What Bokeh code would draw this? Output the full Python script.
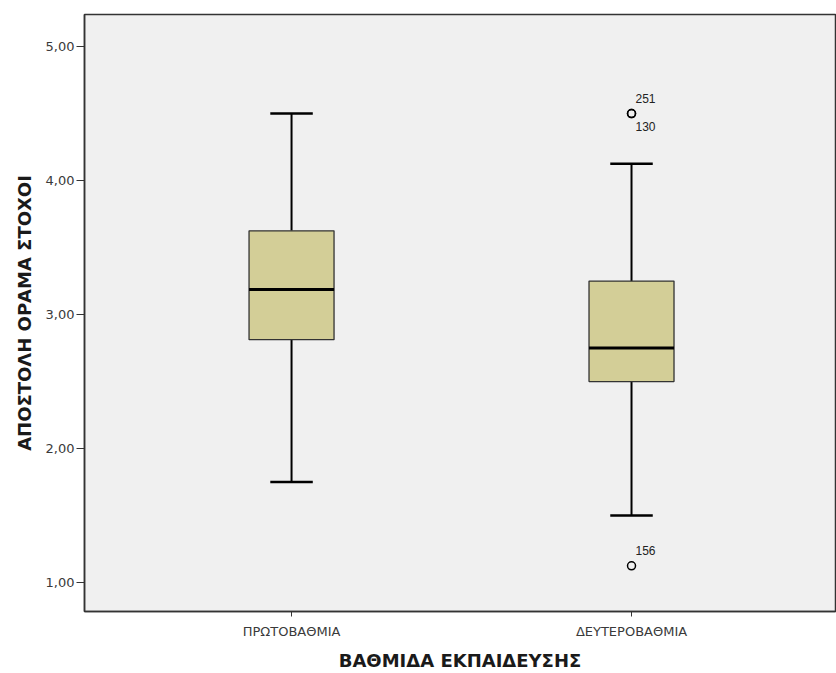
from bokeh.plotting import figure
from bokeh.models import Range1d, FixedTicker, ColumnDataSource
from bokeh.embed import file_html
from bokeh.resources import INLINE
from bokeh.core.properties import value

# ---- data ----
categories = ["ΠΡΩΤΟΒΑΘΜΙΑ", "ΔΕΥΤΕΡΟΒΑΘΜΙΑ"]
lower_whisker = [1.75, 1.5]
q1 = [2.8125, 2.5]
median = [3.1875, 2.75]
q3 = [3.625, 3.25]
upper_whisker = [4.5, 4.125]

outlier_group = [1, 1, 1]          # index into categories
outlier_value = [4.5, 4.5, 1.125]
outlier_id = ["251", "130", "156"]
outlier_label_side = ["above", "below", "above"]

ytick_values = [1, 2, 3, 4, 5]
ytick_labels = ["1,00", "2,00", "3,00", "4,00", "5,00"]

x_title = "ΒΑΘΜΙΔΑ ΕΚΠΑΙΔΕΥΣΗΣ"
y_title = "ΑΠΟΣΤΟΛΗ ΟΡΑΜΑ ΣΤΟΧΟΙ"

# ---- figure ----
xpos = [i + 1 for i in range(len(categories))]
TICK_FONT = "DejaVu Sans"
TITLE_FONT = "DejaVu Sans"

p = figure(width=836, height=673,
           x_range=Range1d(0.391, 2.6), y_range=Range1d(0.784, 5.239),
           output_backend="svg", toolbar_location=None,
           min_border_left=84, min_border_right=1,
           min_border_top=14, min_border_bottom=62)

p.background_fill_color = "#f0f0f0"
p.border_fill_color = "white"
p.outline_line_color = "#333333"
p.outline_line_width = 1.5
p.xgrid.visible = False
p.ygrid.visible = False

box_w = 0.25
cap_w = 0.125

src = ColumnDataSource(dict(x=xpos, lw=lower_whisker, q1=q1, med=median, q3=q3, uw=upper_whisker,
                            xl=[x - box_w / 2 for x in xpos], xr=[x + box_w / 2 for x in xpos],
                            cl=[x - cap_w / 2 for x in xpos], cr=[x + cap_w / 2 for x in xpos]))

# whiskers
p.segment(x0="x", y0="q3", x1="x", y1="uw", source=src, line_color="black", line_width=2)
p.segment(x0="x", y0="lw", x1="x", y1="q1", source=src, line_color="black", line_width=2)
# caps
p.segment(x0="cl", y0="uw", x1="cr", y1="uw", source=src, line_color="black", line_width=2.5)
p.segment(x0="cl", y0="lw", x1="cr", y1="lw", source=src, line_color="black", line_width=2.5)
# boxes
p.vbar(x="x", width=box_w, bottom="q1", top="q3", source=src,
       fill_color="#d3ce97", line_color="#333333", line_width=1.3)
# median
p.segment(x0="xl", y0="med", x1="xr", y1="med", source=src, line_color="black", line_width=3)

# outliers
osrc = ColumnDataSource(dict(
    x=[xpos[g] for g in outlier_group], y=outlier_value, label=outlier_id,
    yoff=[-15 if s == "above" else 13 for s in outlier_label_side]))
p.scatter(x="x", y="y", source=osrc, marker="circle", size=8, fill_color=None,
          line_color="black", line_width=1.5)
p.text(x="x", y="y", text="label", source=osrc, x_offset=4, y_offset="yoff",
       text_align="left", text_baseline="middle", text_font=value("Liberation Sans"),
       text_font_size="12px", text_color="#222222")

# axes
p.yaxis.ticker = FixedTicker(ticks=ytick_values)
p.yaxis.major_label_overrides = {v: l for v, l in zip(ytick_values, ytick_labels)}
p.xaxis.ticker = FixedTicker(ticks=xpos)
p.xaxis.major_label_overrides = {x: c for x, c in zip(xpos, categories)}

for ax in (p.xaxis[0], p.yaxis[0]):
    ax.axis_line_color = "#333333"
    ax.axis_line_width = 1.5
    ax.major_tick_line_color = "#333333"
    ax.minor_tick_line_color = None
    ax.major_tick_in = 0
    ax.major_label_text_font = TICK_FONT
    ax.major_label_text_font_size = "13px"
    ax.major_label_text_color = "#3a3a3a"
    ax.axis_label_text_font = TITLE_FONT
    ax.axis_label_text_font_size = "18px"
    ax.axis_label_text_font_style = "bold"
    ax.axis_label_text_color = "#1a1a1a"

p.yaxis.major_tick_out = 8
p.yaxis.major_label_standoff = 2
p.yaxis.axis_label = y_title
p.yaxis.axis_label_standoff = 8

p.xaxis.major_tick_out = 5
p.xaxis.major_label_standoff = 7
p.xaxis.axis_label = x_title
p.xaxis.axis_label_standoff = 8

open("out.html", "w").write(file_html(p, INLINE))
